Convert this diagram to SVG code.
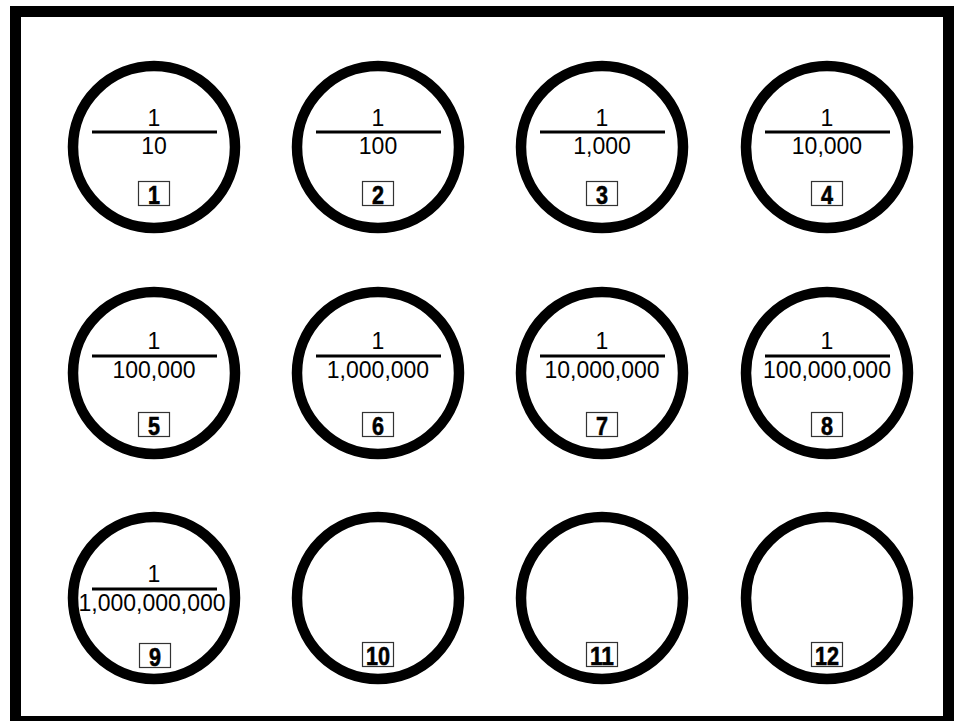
<svg xmlns="http://www.w3.org/2000/svg" width="958" height="721" viewBox="0 0 958 721">
<style>
.ring{fill:none;stroke:#000;stroke-width:10.5}
.bar{stroke:#000;stroke-width:3}
.fr{font-family:"Liberation Sans",Arial,sans-serif;font-size:23px;fill:#000;text-anchor:middle}
.box{fill:#fff;stroke:#333;stroke-width:1.2}
.num{font-family:"Liberation Sans",Arial,sans-serif;font-weight:bold;font-size:26px;fill:#000;stroke:#000;stroke-width:0.6;text-anchor:middle}
</style>
<rect x="0" y="0" width="958" height="721" fill="#fff"/>
<rect x="15.5" y="11.5" width="933" height="710" fill="none" stroke="#000" stroke-width="11"/>
<g id="n1"><circle class="ring" cx="154" cy="147" r="81"/><text class="fr" x="154" y="126">1</text><line class="bar" x1="92" y1="132" x2="217" y2="132"/><text class="fr" x="154" y="154">10</text><rect class="box" x="138.5" y="181.5" width="31" height="24"/><text class="num" x="154" y="203.5" textLength="12" lengthAdjust="spacingAndGlyphs">1</text></g>
<g id="n2"><circle class="ring" cx="378" cy="147" r="81"/><text class="fr" x="378" y="126">1</text><line class="bar" x1="316" y1="132" x2="441" y2="132"/><text class="fr" x="378" y="154">100</text><rect class="box" x="362.5" y="181.5" width="31" height="24"/><text class="num" x="378" y="203.5" textLength="12" lengthAdjust="spacingAndGlyphs">2</text></g>
<g id="n3"><circle class="ring" cx="602" cy="147" r="81"/><text class="fr" x="602" y="126">1</text><line class="bar" x1="540" y1="132" x2="665" y2="132"/><text class="fr" x="602" y="154">1,000</text><rect class="box" x="586.5" y="181.5" width="31" height="24"/><text class="num" x="602" y="203.5" textLength="12" lengthAdjust="spacingAndGlyphs">3</text></g>
<g id="n4"><circle class="ring" cx="827" cy="147" r="81"/><text class="fr" x="827" y="126">1</text><line class="bar" x1="765" y1="132" x2="890" y2="132"/><text class="fr" x="827" y="154">10,000</text><rect class="box" x="811.5" y="181.5" width="31" height="24"/><text class="num" x="827" y="203.5" textLength="12" lengthAdjust="spacingAndGlyphs">4</text></g>
<g id="n5"><circle class="ring" cx="154" cy="373" r="81"/><text class="fr" x="154" y="349">1</text><line class="bar" x1="92" y1="356" x2="217" y2="356"/><text class="fr" x="154" y="378">100,000</text><rect class="box" x="138.5" y="412.5" width="31" height="24"/><text class="num" x="154" y="434.5" textLength="12" lengthAdjust="spacingAndGlyphs">5</text></g>
<g id="n6"><circle class="ring" cx="378" cy="373" r="81"/><text class="fr" x="378" y="349">1</text><line class="bar" x1="316" y1="356" x2="441" y2="356"/><text class="fr" x="378" y="378">1,000,000</text><rect class="box" x="362.5" y="412.5" width="31" height="24"/><text class="num" x="378" y="434.5" textLength="12" lengthAdjust="spacingAndGlyphs">6</text></g>
<g id="n7"><circle class="ring" cx="602" cy="373" r="81"/><text class="fr" x="602" y="349">1</text><line class="bar" x1="540" y1="356" x2="665" y2="356"/><text class="fr" x="602" y="378">10,000,000</text><rect class="box" x="586.5" y="412.5" width="31" height="24"/><text class="num" x="602" y="434.5" textLength="12" lengthAdjust="spacingAndGlyphs">7</text></g>
<g id="n8"><circle class="ring" cx="827" cy="373" r="81"/><text class="fr" x="827" y="349">1</text><line class="bar" x1="765" y1="356" x2="890" y2="356"/><text class="fr" x="827" y="378">100,000,000</text><rect class="box" x="811.5" y="412.5" width="31" height="24"/><text class="num" x="827" y="434.5" textLength="12" lengthAdjust="spacingAndGlyphs">8</text></g>
<g id="n9"><circle class="ring" cx="154" cy="598" r="81"/><text class="fr" x="154" y="582">1</text><line class="bar" x1="92" y1="589" x2="217" y2="589"/><text class="fr" x="152" y="611">1,000,000,000</text><rect class="box" x="139.5" y="643.5" width="31" height="24"/><text class="num" x="155" y="665.5" textLength="12" lengthAdjust="spacingAndGlyphs">9</text></g>
<g id="n10"><circle class="ring" cx="378" cy="598" r="81"/><rect class="box" x="362.5" y="642.5" width="31" height="24"/><text class="num" x="378" y="664.5" textLength="24" lengthAdjust="spacingAndGlyphs">10</text></g>
<g id="n11"><circle class="ring" cx="602" cy="598" r="81"/><rect class="box" x="586.5" y="642.5" width="31" height="24"/><text class="num" x="602" y="664.5" textLength="24" lengthAdjust="spacingAndGlyphs">11</text></g>
<g id="n12"><circle class="ring" cx="827" cy="598" r="81"/><rect class="box" x="811.5" y="642.5" width="31" height="24"/><text class="num" x="827" y="664.5" textLength="24" lengthAdjust="spacingAndGlyphs">12</text></g>
<g id="connectors"/>
</svg>
